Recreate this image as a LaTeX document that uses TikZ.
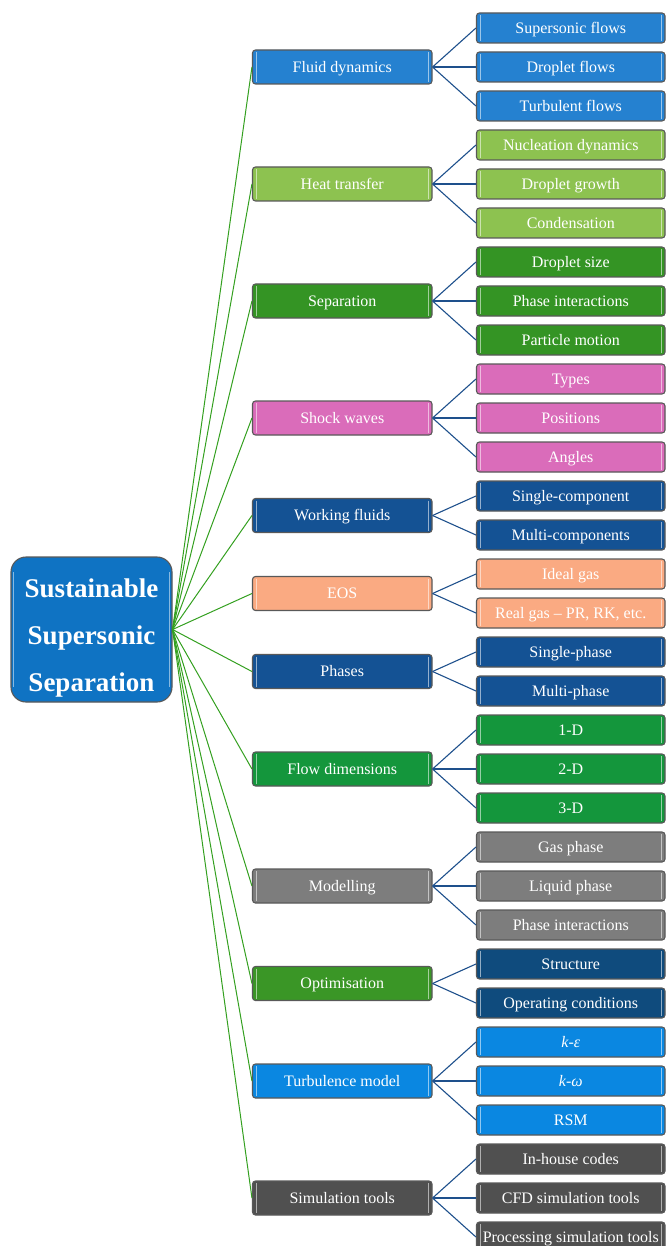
\documentclass[tikz,border=0pt]{standalone}
\usepackage{fontspec}
\setmainfont{Liberation Serif}
\definecolor{cFluid}{HTML}{2581D0}
\definecolor{cHeat}{HTML}{8DC250}
\definecolor{cSep}{HTML}{349424}
\definecolor{cShock}{HTML}{DA6CBA}
\definecolor{cWork}{HTML}{145294}
\definecolor{cEOS}{HTML}{FAAA82}
\definecolor{cFlow}{HTML}{14963C}
\definecolor{cModel}{HTML}{7D7D7D}
\definecolor{cOpt}{HTML}{3A9626}
\definecolor{cOptLeaf}{HTML}{0F4B7D}
\definecolor{cTurb}{HTML}{0A87E1}
\definecolor{cSim}{HTML}{505050}
\definecolor{cRoot}{HTML}{0F73C3}
\definecolor{cEdge}{HTML}{595959}
\definecolor{cGreenLine}{HTML}{34A020}
\definecolor{cBlueLine}{HTML}{1E508C}
\tikzset{
  hl/.style={path picture={
    \draw[white,opacity=0.55,line width=1pt]
      ([xshift=3.5pt,yshift=-2pt]path picture bounding box.north west) --
      ([xshift=3.5pt,yshift=2pt]path picture bounding box.south west);
    \draw[white,opacity=0.55,line width=1pt]
      ([xshift=-3.5pt,yshift=-2pt]path picture bounding box.north east) --
      ([xshift=-3.5pt,yshift=2pt]path picture bounding box.south east);}},
  midbox/.style={draw=cEdge, line width=1.1pt, rounded corners=3pt, fill=#1,
    minimum width=179.5pt, minimum height=34pt, inner sep=0pt,
    text height=12.5pt, text depth=2pt,
    text=white, font=\fontsize{16}{18}\selectfont, hl},
  leafbox/.style={draw=cEdge, line width=1.1pt, rounded corners=3pt, fill=#1,
    minimum width=188.5pt, minimum height=30pt, inner sep=0pt,
    text height=12.5pt, text depth=2pt,
    text=white, font=\fontsize{16}{18}\selectfont, hl},
  rootbox/.style={draw=cEdge, line width=1.1pt, rounded corners=15pt, fill=cRoot,
    minimum width=161pt, minimum height=145pt, inner sep=0pt},
  roottext/.style={align=center, inner sep=0pt,
    text=white, font=\bfseries\fontsize{27}{47}\selectfont},
  rootline/.style={draw=cGreenLine, line width=1pt},
  leafline/.style={draw=cBlueLine, line width=1.1pt}
}
\begin{document}
\begin{tikzpicture}[x=1pt,y=-1pt]
\clip (0,0) rectangle (666,1246);
% root
\node[rootbox] (root) at (91.5,629.5) {};
\draw[white,opacity=0.5,line width=1pt] ([xshift=3.5pt,yshift=-16pt]root.north west) -- ([xshift=3.5pt,yshift=16pt]root.south west);
\draw[white,opacity=0.5,line width=1pt] ([xshift=-3.5pt,yshift=-16pt]root.north east) -- ([xshift=-3.5pt,yshift=16pt]root.south east);
\node[roottext] (rootlabel) at (91.5,638) {Sustainable\\Supersonic\\Separation};
% middle nodes
\node[midbox=cFluid] (m1) at (342.25,67) {Fluid dynamics};
\node[midbox=cHeat] (m2) at (342.25,184) {Heat transfer};
\node[midbox=cSep] (m3) at (342.25,301) {Separation};
\node[midbox=cShock] (m4) at (342.25,418) {Shock waves};
\node[midbox=cWork] (m5) at (342.25,515.5) {Working fluids};
\node[midbox=cEOS] (m6) at (342.25,593.5) {EOS};
\node[midbox=cWork] (m7) at (342.25,671.5) {Phases};
\node[midbox=cFlow] (m8) at (342.25,769) {Flow dimensions};
\node[midbox=cModel] (m9) at (342.25,886) {Modelling};
\node[midbox=cOpt] (m10) at (342.25,983.5) {Optimisation};
\node[midbox=cTurb] (m11) at (342.25,1081) {Turbulence model};
\node[midbox=cSim] (m12) at (342.25,1198) {Simulation tools};
% leaves
\node[leafbox=cFluid] (l1) at (570.75,28) {Supersonic flows};
\node[leafbox=cFluid] (l2) at (570.75,67) {Droplet flows};
\node[leafbox=cFluid] (l3) at (570.75,106) {Turbulent flows};
\node[leafbox=cHeat] (l4) at (570.75,145) {Nucleation dynamics};
\node[leafbox=cHeat] (l5) at (570.75,184) {Droplet growth};
\node[leafbox=cHeat] (l6) at (570.75,223) {Condensation};
\node[leafbox=cSep] (l7) at (570.75,262) {Droplet size};
\node[leafbox=cSep] (l8) at (570.75,301) {Phase interactions};
\node[leafbox=cSep] (l9) at (570.75,340) {Particle motion};
\node[leafbox=cShock] (l10) at (570.75,379) {Types};
\node[leafbox=cShock] (l11) at (570.75,418) {Positions};
\node[leafbox=cShock] (l12) at (570.75,457) {Angles};
\node[leafbox=cWork] (l13) at (570.75,496) {Single-component};
\node[leafbox=cWork] (l14) at (570.75,535) {Multi-components};
\node[leafbox=cEOS] (l15) at (570.75,574) {Ideal gas};
\node[leafbox=cEOS] (l16) at (570.75,613) {Real gas – PR, RK, etc.};
\node[leafbox=cWork] (l17) at (570.75,652) {Single-phase};
\node[leafbox=cWork] (l18) at (570.75,691) {Multi-phase};
\node[leafbox=cFlow] (l19) at (570.75,730) {1-D};
\node[leafbox=cFlow] (l20) at (570.75,769) {2-D};
\node[leafbox=cFlow] (l21) at (570.75,808) {3-D};
\node[leafbox=cModel] (l22) at (570.75,847) {Gas phase};
\node[leafbox=cModel] (l23) at (570.75,886) {Liquid phase};
\node[leafbox=cModel] (l24) at (570.75,925) {Phase interactions};
\node[leafbox=cOptLeaf] (l25) at (570.75,964) {Structure};
\node[leafbox=cOptLeaf] (l26) at (570.75,1003) {Operating conditions};
\node[leafbox=cTurb] (l27) at (570.75,1042) {\textit{k}-\textit{ε}};
\node[leafbox=cTurb] (l28) at (570.75,1081) {\textit{k}-\textit{ω}};
\node[leafbox=cTurb] (l29) at (570.75,1120) {RSM};
\node[leafbox=cSim] (l30) at (570.75,1159) {In-house codes};
\node[leafbox=cSim] (l31) at (570.75,1198) {CFD simulation tools};
\node[leafbox=cSim] (l32) at (570.75,1237) {Processing simulation tools};
% root connectors
\foreach \m in {1,...,12} \draw[rootline] (root.east) -- (m\m.west);
% leaf connectors
\foreach \m/\l in {1/1,1/2,1/3,2/4,2/5,2/6,3/7,3/8,3/9,4/10,4/11,4/12,5/13,5/14,6/15,6/16,7/17,7/18,8/19,8/20,8/21,9/22,9/23,9/24,10/25,10/26,11/27,11/28,11/29,12/30,12/31,12/32}
  \draw[leafline] (m\m.east) -- (l\l.west);
\end{tikzpicture}
\end{document}
